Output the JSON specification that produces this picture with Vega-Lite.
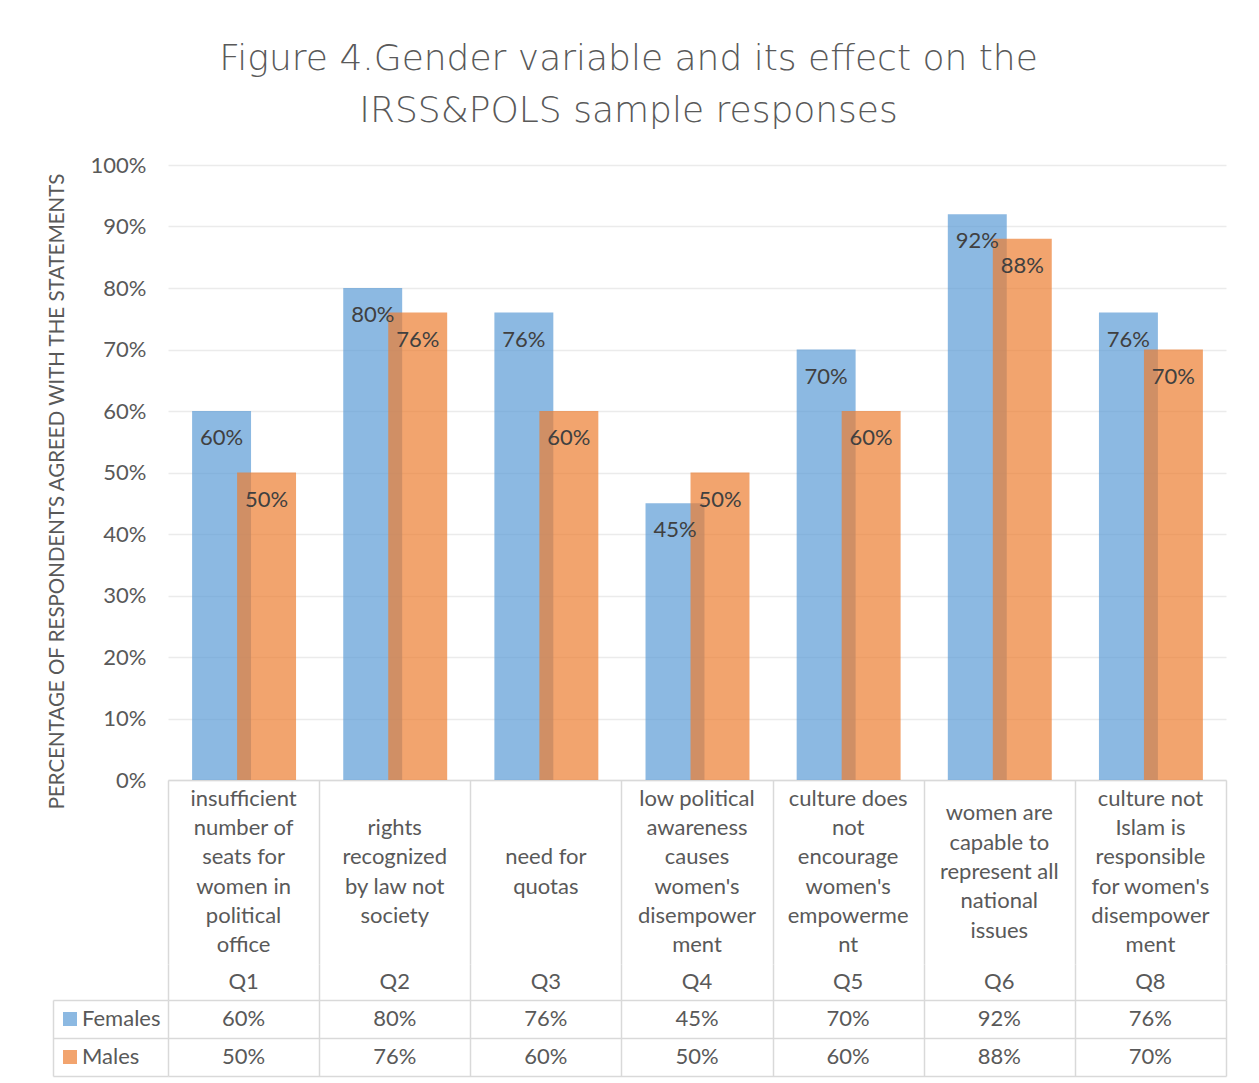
{
  "$schema": "https://vega.github.io/schema/vega-lite/v6.json",
  "background": "white",
  "padding": {"left": 47, "top": 41, "right": 30, "bottom": 6},
  "title": {
    "text": ["Figure 4.Gender variable and its effect on the", "IRSS&POLS sample responses"],
    "font": "DejaVu Sans",
    "fontSize": 36,
    "fontWeight": 200,
    "color": "#595959",
    "lineHeight": 52,
    "anchor": "middle",
    "frame": "bounds",
    "offset": 24,
    "dx": -8
  },
  "datasets": {
    "questions": [
      {"q": "Q1", "statement": "insufficient\nnumber of\nseats for\nwomen in\npolitical\noffice"},
      {"q": "Q2", "statement": "rights\nrecognized\nby law not\nsociety"},
      {"q": "Q3", "statement": "need for\nquotas"},
      {"q": "Q4", "statement": "low political\nawareness\ncauses\nwomen's\ndisempower\nment"},
      {"q": "Q5", "statement": "culture does\nnot\nencourage\nwomen's\nempowerme\nnt"},
      {"q": "Q6", "statement": "women are\ncapable to\nrepresent all\nnational\nissues"},
      {"q": "Q8", "statement": "culture not\nIslam is\nresponsible\nfor women's\ndisempower\nment"}
    ],
    "responses": [
      {"q": "Q1", "gender": "Females", "pct": 0.60},
      {"q": "Q2", "gender": "Females", "pct": 0.80},
      {"q": "Q3", "gender": "Females", "pct": 0.76},
      {"q": "Q4", "gender": "Females", "pct": 0.45},
      {"q": "Q5", "gender": "Females", "pct": 0.70},
      {"q": "Q6", "gender": "Females", "pct": 0.92},
      {"q": "Q8", "gender": "Females", "pct": 0.76},
      {"q": "Q1", "gender": "Males", "pct": 0.50},
      {"q": "Q2", "gender": "Males", "pct": 0.76},
      {"q": "Q3", "gender": "Males", "pct": 0.60},
      {"q": "Q4", "gender": "Males", "pct": 0.50},
      {"q": "Q5", "gender": "Males", "pct": 0.60},
      {"q": "Q6", "gender": "Males", "pct": 0.88},
      {"q": "Q8", "gender": "Males", "pct": 0.70}
    ]
  },
  "spacing": 0,
  "bounds": "flush",
  "vconcat": [
    {
      "width": 1058,
      "height": 615,
      "data": {"name": "responses"},
      "encoding": {
        "x": {
          "field": "q", "type": "nominal",
          "scale": {"paddingInner": 0, "paddingOuter": 0},
          "axis": {"labels": false, "ticks": false, "title": null, "grid": false, "domainColor": "#D9D9D9", "domainWidth": 1.5}
        },
        "y": {
          "field": "pct", "type": "quantitative",
          "scale": {"domain": [0, 1]},
          "axis": {
            "values": [0, 0.1, 0.2, 0.3, 0.4, 0.5, 0.6, 0.7, 0.8, 0.9, 1],
            "format": ".0%",
            "ticks": false,
            "domain": false,
            "grid": true,
            "gridColor": "#EBEBEB",
            "gridWidth": 1.5,
            "labelFontSize": 22,
            "labelColor": "#595959",
            "labelPadding": 22,
            "title": "PERCENTAGE OF RESPONDENTS AGREED WITH THE STATEMENTS",
            "titleFontSize": 20.5,
            "titleFontWeight": "normal",
            "titleColor": "#595959",
            "titlePadding": 23,
            "titleY": 326
          }
        }
      },
      "layer": [
        {
          "transform": [{"filter": "datum.gender === 'Females'"}],
          "mark": {"type": "bar", "width": {"band": 0.39}, "xOffset": -22, "opacity": 0.7},
          "encoding": {
            "color": {
              "field": "gender", "type": "nominal",
              "scale": {"domain": ["Females", "Males"], "range": ["#5B9BD5", "#ED7D31"]},
              "legend": {
                "orient": "none", "legendX": -109, "legendY": 843, "title": null,
                "symbolType": "square", "symbolSize": 196, "symbolOpacity": 0.7, "symbolStrokeWidth": 0,
                "labelFontSize": 22, "labelColor": "#595959", "labelOffset": 1, "rowPadding": 16, "padding": 0
              }
            }
          }
        },
        {
          "transform": [{"filter": "datum.gender === 'Males'"}],
          "mark": {"type": "bar", "width": {"band": 0.39}, "xOffset": 23, "opacity": 0.7},
          "encoding": {
            "color": {"field": "gender", "type": "nominal"}
          }
        },
        {
          "transform": [{"filter": "datum.gender === 'Females'"}],
          "mark": {"type": "text", "xOffset": -22, "dy": 27, "fontSize": 22, "color": "#404040", "baseline": "middle"},
          "encoding": {"text": {"field": "pct", "format": ".0%"}}
        },
        {
          "transform": [{"filter": "datum.gender === 'Males'"}],
          "mark": {"type": "text", "xOffset": 23, "dy": 27, "fontSize": 22, "color": "#404040", "baseline": "middle"},
          "encoding": {"text": {"field": "pct", "format": ".0%"}}
        }
      ]
    },
    {
      "width": 1058,
      "height": 184,
      "data": {"name": "questions"},
      "mark": {
        "type": "text", "lineBreak": "\n", "lineHeight": 29.3, "fontSize": 22, "color": "#595959", "baseline": "middle",
        "dy": {"expr": "-(length(split(datum.statement, '\\n')) - 1) * 29.3 / 2"}
      },
      "encoding": {
        "x": {
          "field": "q", "type": "nominal",
          "scale": {"paddingInner": 0, "paddingOuter": 0},
          "axis": {"labels": false, "ticks": false, "domain": false, "title": null, "grid": true, "tickBand": "extent", "gridColor": "#D9D9D9", "gridWidth": 1.5}
        },
        "text": {"field": "statement"}
      }
    },
    {
      "width": 1058,
      "height": 36,
      "data": {"name": "questions"},
      "mark": {"type": "text", "fontSize": 22, "color": "#595959", "baseline": "middle"},
      "encoding": {
        "x": {
          "field": "q", "type": "nominal",
          "scale": {"paddingInner": 0, "paddingOuter": 0},
          "axis": {"labels": false, "ticks": false, "domain": false, "title": null, "grid": true, "tickBand": "extent", "gridColor": "#D9D9D9", "gridWidth": 1.5}
        },
        "text": {"field": "q"}
      }
    },
    {
      "width": 1058,
      "height": 76,
      "data": {"name": "responses"},
      "mark": {"type": "text", "fontSize": 22, "color": "#595959", "baseline": "middle"},
      "encoding": {
        "x": {
          "field": "q", "type": "nominal",
          "scale": {"paddingInner": 0, "paddingOuter": 0},
          "axis": {"labels": false, "ticks": false, "domain": false, "title": null, "grid": true, "tickBand": "extent", "gridColor": "#D9D9D9", "gridWidth": 1.5}
        },
        "y": {
          "field": "gender", "type": "nominal",
          "scale": {"domain": ["Females", "Males"], "paddingInner": 0, "paddingOuter": 0},
          "axis": {
            "labels": false, "title": null,
            "offset": 115, "tickSize": -115, "tickBand": "extent",
            "tickColor": "#D9D9D9", "tickWidth": 1.5,
            "domainColor": "#D9D9D9", "domainWidth": 1.5,
            "grid": true, "gridColor": "#D9D9D9", "gridWidth": 1.5
          }
        },
        "text": {"field": "pct", "format": ".0%"}
      }
    }
  ],
  "config": {
    "view": {"stroke": null},
    "font": "Lato",
    "axis": {"labelFont": "Lato", "titleFont": "Lato"},
    "legend": {"labelFont": "Lato"},
    "text": {"font": "Lato"}
  }
}
